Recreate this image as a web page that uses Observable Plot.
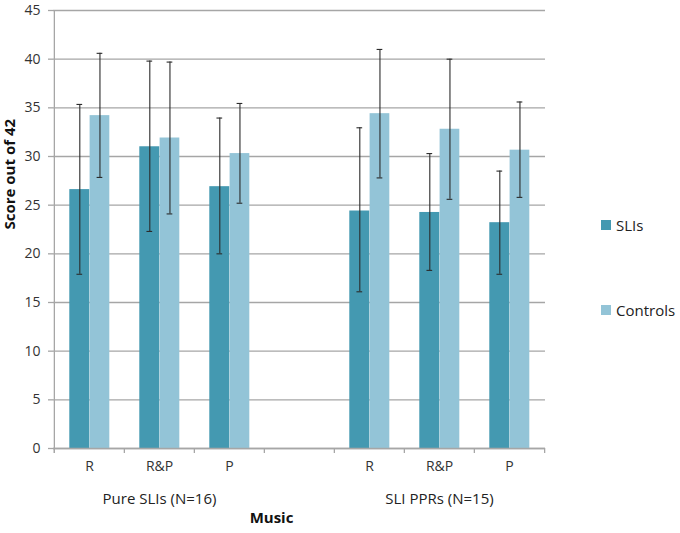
<!DOCTYPE html>
<html><head><meta charset="utf-8">
<script src="https://cdn.jsdelivr.net/npm/d3@7"></script>
<script src="https://cdn.jsdelivr.net/npm/@observablehq/plot@0.6"></script>
<style>
body{margin:0;background:#fff;font-family:"Open Sans",sans-serif;}
#wrap{position:relative;width:680px;height:533px;}
.leg{position:absolute;left:601px;display:flex;align-items:center;font-size:15px;color:#222;}
.leg span.sw{display:inline-block;width:10px;height:10px;margin-right:5px;}
</style></head><body><div id="wrap"></div>
<script>
const categories = ["R", "R&P", "P"];
const groups = ["Pure SLIs (N=16)", "SLI PPRs (N=15)"];
const series = ["SLIs", "Controls"];
const colors = ["#4499b1", "#93c4d7"];
// per group x category (group 1: R, R&P, P; group 2: R, R&P, P)
const sliMean = [26.6, 31.0, 26.9, 24.4, 24.25, 23.2];
const sliLow  = [17.9, 22.3, 20.0, 16.1, 18.3, 17.9];
const sliHigh = [35.35, 39.8, 33.95, 32.95, 30.3, 28.5];
const ctlMean = [34.2, 31.9, 30.3, 34.4, 32.8, 30.65];
const ctlLow  = [27.85, 24.1, 25.2, 27.8, 25.6, 25.8];
const ctlHigh = [40.6, 39.7, 35.45, 41.0, 40.0, 35.6];
const yTicks = [0, 5, 10, 15, 20, 25, 30, 35, 40, 45];

const slots = [];
groups.forEach((g, gi) => {
  categories.forEach(c => slots.push(gi + "|" + c));
  if (gi === 0) slots.push("gap");
});
const rows = [];
groups.forEach((g, gi) => categories.forEach((c, ci) => {
  const k = gi * 3 + ci;
  rows.push({slot: gi + "|" + c, series: "SLIs", mean: sliMean[k], low: sliLow[k], high: sliHigh[k]});
  rows.push({slot: gi + "|" + c, series: "Controls", mean: ctlMean[k], low: ctlLow[k], high: ctlHigh[k]});
}));
const sli = rows.filter(d => d.series === "SLIs");
const ctl = rows.filter(d => d.series === "Controls");

const W = 680, H = 533, mL = 53, mR = 135, mT = 10, mB = 85;
const bw = (W - mL - mR) / slots.length;
const plotH = H - mT - mB;
const grid = "#a6a6a6";
const errC = "#2b2b2b";

const chart = Plot.plot({
  width: W, height: H,
  marginLeft: mL, marginRight: mR, marginTop: mT, marginBottom: mB,
  style: {fontFamily: "Open Sans, sans-serif", fontSize: "14px", color: "#333", background: "#fff"},
  x: {type: "band", domain: slots, padding: 0, axis: null},
  y: {domain: [0, 45], axis: null},
  marks: [
    Plot.gridY(yTicks, {stroke: grid, strokeOpacity: 1, strokeWidth: 1.3}),
    Plot.barY(sli, {x: "slot", y: "mean", fill: colors[0], insetLeft: 15.3, insetRight: bw - 35.6}),
    Plot.barY(ctl, {x: "slot", y: "mean", fill: colors[1], insetLeft: 35.6, insetRight: bw - 55.6}),
    Plot.ruleX(sli, {x: "slot", y1: "low", y2: "high", dx: 25.45 - bw / 2, stroke: errC, strokeWidth: 1.1}),
    Plot.ruleX(ctl, {x: "slot", y1: "low", y2: "high", dx: 45.6 - bw / 2, stroke: errC, strokeWidth: 1.1}),
    Plot.tickY(sli, {x: "slot", y: "high", insetLeft: 22.45, insetRight: bw - 28.45, stroke: errC, strokeWidth: 1.1}),
    Plot.tickY(sli, {x: "slot", y: "low", insetLeft: 22.45, insetRight: bw - 28.45, stroke: errC, strokeWidth: 1.1}),
    Plot.tickY(ctl, {x: "slot", y: "high", insetLeft: 42.6, insetRight: bw - 48.6, stroke: errC, strokeWidth: 1.1}),
    Plot.tickY(ctl, {x: "slot", y: "low", insetLeft: 42.6, insetRight: bw - 48.6, stroke: errC, strokeWidth: 1.1}),
    Plot.ruleY([0], {stroke: grid, strokeWidth: 1.3}),
    // y axis line
    Plot.ruleX([slots[0]], {x: d => d, dx: -bw / 2, stroke: grid, strokeWidth: 1.3, insetBottom: -5}),
    // category boundary ticks
    Plot.ruleX(slots, {x: d => d, dx: -bw / 2, stroke: grid, strokeWidth: 1.3, insetTop: plotH, insetBottom: -5}),
    Plot.ruleX([slots[slots.length - 1]], {x: d => d, dx: bw / 2, stroke: grid, strokeWidth: 1.3, insetTop: plotH, insetBottom: -5}),
    Plot.axisY({ticks: yTicks, tickSize: 5, tickPadding: 8, stroke: grid, strokeWidth: 1.3, fill: "#333", fontSize: 14, label: null}),
    Plot.axisX({tickSize: 0, tickPadding: 13, tickFormat: k => (k.split("|")[1] || ""), fill: "#333", fontSize: 14, label: null}),
    Plot.text(groups, {x: (d, i) => i + "|R&P", frameAnchor: "bottom", dy: 55, text: d => d, fontSize: 15, fill: "#222"}),
    Plot.text(["Music"], {x: () => "gap", frameAnchor: "bottom", dy: 74, dx: -28, text: d => d, fontSize: 15, fontWeight: "bold", fill: "#111"}),
    Plot.text(["Score out of 42"], {frameAnchor: "left", dx: -43, rotate: -90, text: d => d, fontSize: 15, fontWeight: "bold", fill: "#111"})
  ]
});
const wrap = document.getElementById("wrap");
wrap.appendChild(chart);
[["SLIs", colors[0], 225], ["Controls", colors[1], 310]].forEach(([t, c, y]) => {
  const d = document.createElement("div");
  d.className = "leg";
  d.style.top = (y - 11) + "px";
  d.style.height = "22px";
  d.innerHTML = `<span class="sw" style="background:${c}"></span><span>${t}</span>`;
  wrap.appendChild(d);
});
</script>
</body></html>
